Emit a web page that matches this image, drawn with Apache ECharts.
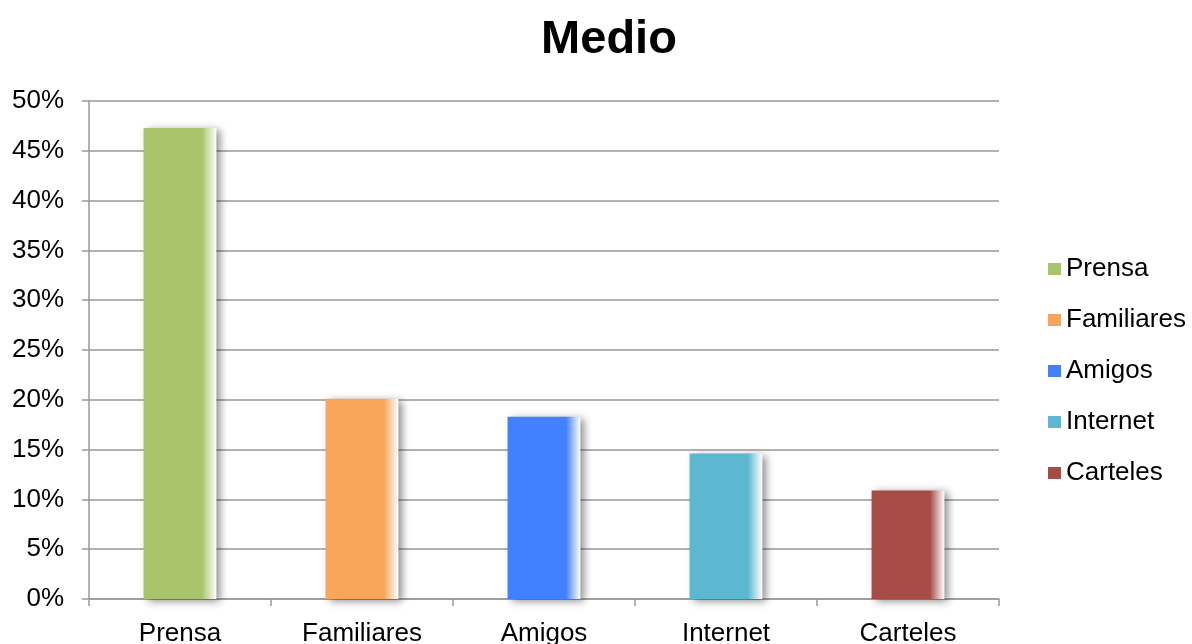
<!DOCTYPE html>
<html>
<head>
<meta charset="utf-8">
<script src="https://cdn.jsdelivr.net/npm/echarts@6/dist/echarts.min.js"></script>
<style>
html,body{margin:0;padding:0;background:#fff;}
#chart{width:1192px;height:644px;}
</style>
</head>
<body>
<div id="chart"></div>
<script>
const categories = ['Prensa', 'Familiares', 'Amigos', 'Internet', 'Carteles'];
const values = [47.3, 20.1, 18.3, 14.6, 10.9];
const colors = ['#A9C46B', '#F9A65A', '#4180FF', '#5BB8D0', '#A64B45'];
const yTicks = [0, 50, 5];

const font = 'Liberation Sans, Arial, Helvetica, sans-serif';

function grad(c) {
  return new echarts.graphic.LinearGradient(0, 0, 1, 0, [
    {offset: 0, color: c},
    {offset: 0.8, color: c},
    {offset: 1, color: '#ffffff'}
  ]);
}

const series = categories.map((name, i) => ({
  name: name,
  type: 'bar',
  barWidth: '40%',
  barGap: '-100%',
  data: categories.map((_, j) => j === i ? values[i] : '-'),
  itemStyle: {
    color: grad(colors[i]),
    shadowColor: 'rgba(0,0,0,0.45)',
    shadowBlur: 8,
    shadowOffsetX: 4,
    shadowOffsetY: 2
  }
}));

const chart = echarts.init(document.getElementById('chart'), null, {renderer: 'canvas'});
chart.setOption({
  animation: false,
  backgroundColor: '#ffffff',
  title: {
    text: 'Medio',
    left: 604,
    textAlign: 'center',
    top: 12,
    textStyle: {fontFamily: font, fontSize: 47, fontWeight: 'bold', color: '#000'}
  },
  legend: {
    orient: 'vertical',
    left: 1048,
    top: 256,
    padding: 0,
    itemWidth: 13,
    itemHeight: 12,
    itemGap: 25,
    icon: 'rect',
    data: categories.map((n, i) => ({name: n, itemStyle: {color: colors[i], shadowBlur: 0, shadowOffsetX: 0, shadowOffsetY: 0}})),
    textStyle: {fontFamily: font, fontSize: 26, color: '#000', lineHeight: 26}
  },
  grid: {left: 89, right: 193, top: 101, bottom: 45, containLabel: false, outerBoundsMode: 'none'},
  xAxis: {
    type: 'category',
    data: categories,
    axisLine: {lineStyle: {color: '#999999', width: 1.5}},
    axisTick: {show: true, length: 7, lineStyle: {color: '#999999', width: 1.5}},
    axisLabel: {fontFamily: font, fontSize: 26, color: '#000', margin: 22}
  },
  yAxis: {
    type: 'value',
    min: yTicks[0],
    max: yTicks[1],
    interval: yTicks[2],
    axisLine: {show: true, lineStyle: {color: '#999999', width: 1.5}},
    axisTick: {show: true, length: 7, lineStyle: {color: '#999999', width: 1.5}},
    splitLine: {lineStyle: {color: '#999999', width: 1.5}},
    axisLabel: {fontFamily: font, fontSize: 26, color: '#000', margin: 25, formatter: '{value}%'}
  },
  series: series
});
</script>
</body>
</html>
